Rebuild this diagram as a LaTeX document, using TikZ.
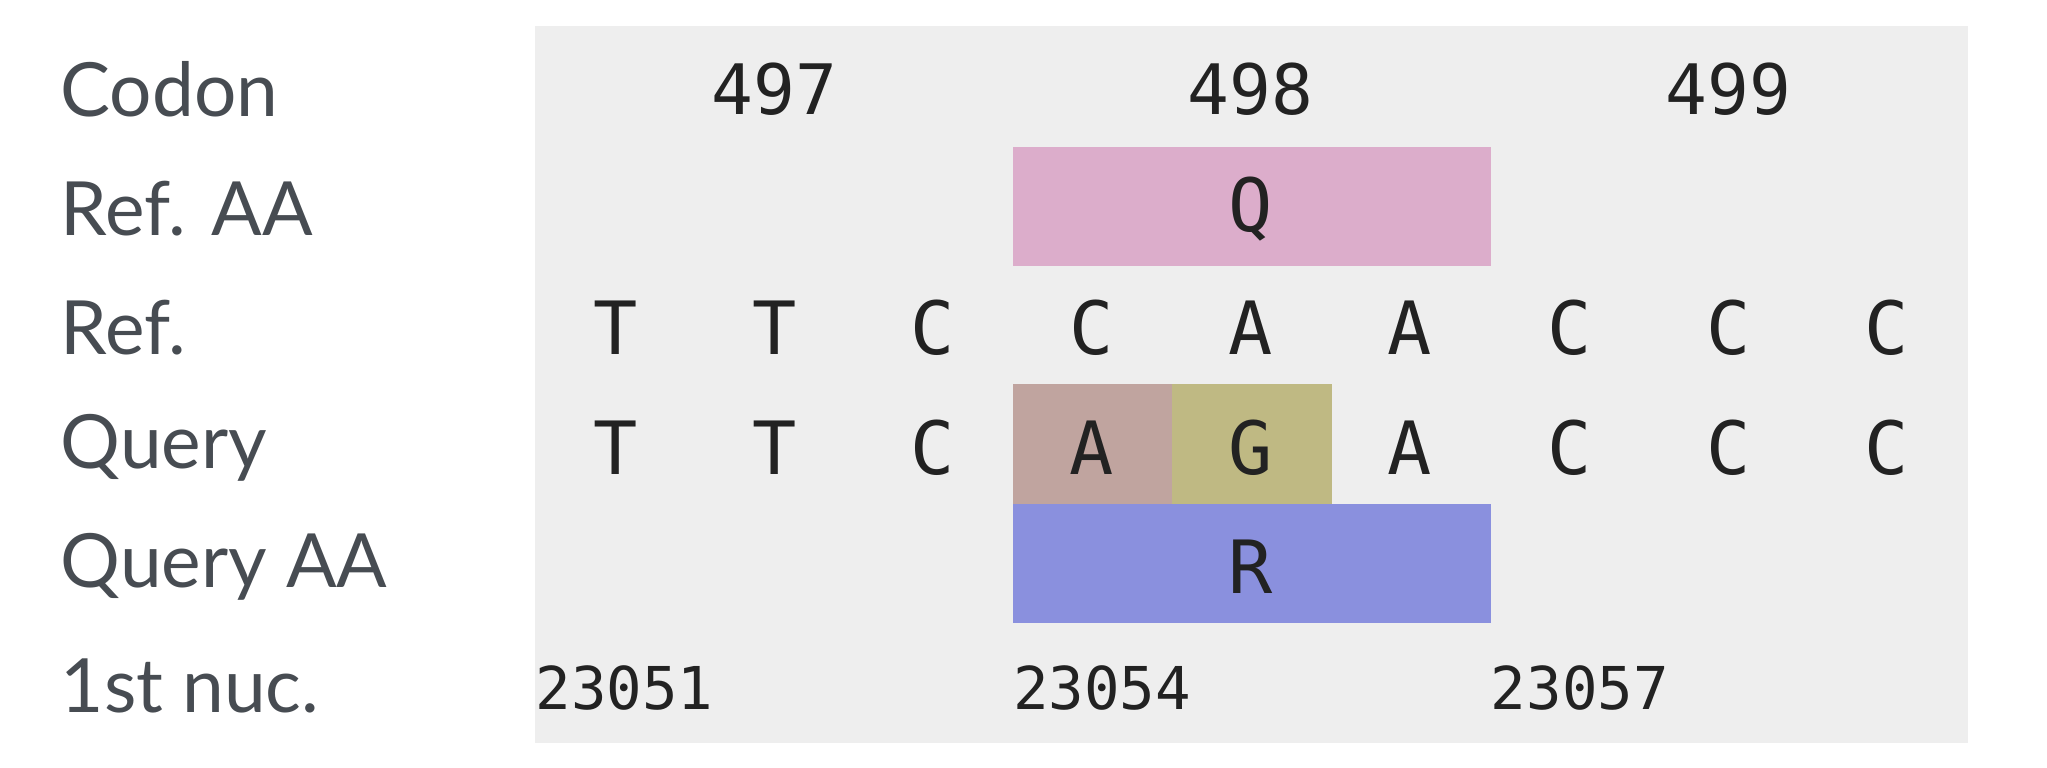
\documentclass[tikz,border=0pt]{standalone}
\usepackage{fontspec}
\setmainfont{Lato}
\newfontfamily\monof{DejaVu Sans Mono}
\definecolor{bgg}{HTML}{EEEEEE}
\definecolor{pinkq}{HTML}{DCADCB}
\definecolor{brownq}{HTML}{C0A49F}
\definecolor{oliveq}{HTML}{BFB983}
\definecolor{blueq}{HTML}{8A90DE}
\definecolor{lbl}{HTML}{474C52}
\definecolor{mono}{HTML}{222222}
\begin{document}
\begin{tikzpicture}[x=1pt,y=-1pt,
  lab/.style={anchor=west,text=lbl,font=\fontsize{57}{57}\selectfont,inner sep=0pt},
  nuc/.style={text=mono,font=\monof\fontsize{56}{56}\selectfont,inner sep=0pt},
  cod/.style={text=mono,font=\monof\fontsize{53}{53}\selectfont,inner sep=0pt},
  num/.style={anchor=west,text=mono,font=\monof\fontsize{45}{45}\selectfont,inner sep=0pt}]
\useasboundingbox (0,0) rectangle (1560,585);
\fill[bgg] (408,20) rectangle (1500,566);
\fill[pinkq] (772,112) rectangle (1136,203);
\fill[brownq] (772,293) rectangle (893,384);
\fill[oliveq] (893,293) rectangle (1015,384);
\fill[blueq] (772,384) rectangle (1136,475);
\node[lab] (l1) at (46,68) {Codon};
\node[lab] (l2) at (46,159) {Ref. AA};
\node[lab] (l3) at (46,250) {Ref.};
\node[lab] (l4) at (46,341) {Query};
\node[lab] (l5) at (46,432) {Query AA};
\node[lab] (l6) at (46,523) {1st nuc.};
\node[cod] (c1) at (590,68) {497};
\node[cod] (c2) at (953,68) {498};
\node[cod] (c3) at (1317,68) {499};
\node[nuc] (aa1) at (953,159) {Q};
\node[nuc] (aa2) at (953,432) {R};
\foreach \x/\r/\q [count=\i] in {469/T/T,590/T/T,711/C/C,832/C/A,953/A/G,1074/A/A,1196/C/C,1317/C/C,1438/C/C}{
  \node[nuc] (r\i) at (\x,250) {\r};
  \node[nuc] (q\i) at (\x,341) {\q};
}
\node[num] (n1) at (408,524) {23051};
\node[num] (n2) at (772,524) {23054};
\node[num] (n3) at (1136,524) {23057};
\end{tikzpicture}
\end{document}
